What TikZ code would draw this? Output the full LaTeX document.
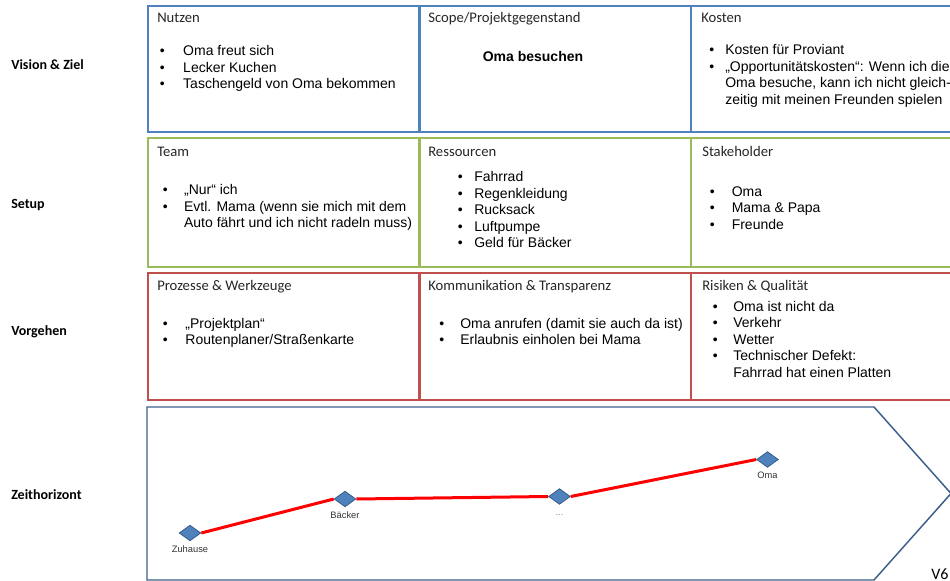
\documentclass[tikz,border=0pt]{standalone}
\usepackage{fontspec}
\setmainfont{Liberation Sans}
\newfontfamily\calibri{Carlito}
\usetikzlibrary{positioning, shapes.geometric}

\definecolor{boxblue}{HTML}{4F81BD}
\definecolor{boxgreen}{HTML}{9BBB59}
\definecolor{boxred}{HTML}{C0504D}
\definecolor{chevblue}{HTML}{3A5F8B}
\definecolor{milefill}{HTML}{4F81BD}
\definecolor{miledraw}{HTML}{385D8A}

\newcommand{\blist}[2]{{\fontsize{10.5}{12.3}\selectfont\begin{tabular}[t]{@{}p{#1}@{}l@{}}#2\end{tabular}}}
\newcommand{\bul}{\textbullet &}

\begin{document}
\begin{tikzpicture}[x=0.75pt, y=-0.75pt,
    cell/.style={draw=#1, line width=1.5pt, minimum width=203.25pt, anchor=north west, inner sep=0},
    head/.style={anchor=base west, inner sep=0, text=black!85, font=\calibri\fontsize{11}{13}\selectfont},
    items/.style={anchor=base west, inner sep=0},
    rowlabel/.style={anchor=base west, inner sep=0, font=\calibri\bfseries\fontsize{10.5}{12}\selectfont},
    milestone/.style={diamond, draw=miledraw, fill=milefill, line width=0.6pt, minimum width=16.3pt, minimum height=11.8pt, inner sep=0},
    tlabel/.style={inner sep=1pt, text height=5pt, text depth=1.5pt, text=black!80, font=\fontsize{7}{8}\selectfont},
    route/.style={draw=red, line width=2.25pt},
    chevron/.style={draw=chevblue, line width=1.1pt}]

  \useasboundingbox (0,0) rectangle (950,581);

  % row labels
  \node[rowlabel] (vision) at (11,69.5) {Vision \& Ziel};
  \node[rowlabel] (setup) at (11,208.5) {Setup};
  \node[rowlabel] (vorgehen) at (11,335.5) {Vorgehen};
  \node[rowlabel] (zeit) at (11,499.5) {Zeithorizont};

  % boxes
  \node[cell=boxblue, minimum height=94.5pt] (nutzen) at (147,5) {};
  \node[cell=boxblue, minimum height=94.5pt] (scope) at (418.5,5) {};
  \node[cell=boxblue, minimum height=94.5pt] (kosten) at (690,5) {};
  \node[cell=boxgreen, minimum height=96.75pt] (team) at (147,137) {};
  \node[cell=boxgreen, minimum height=96.75pt] (ressourcen) at (418.5,137) {};
  \node[cell=boxgreen, minimum height=96.75pt] (stakeholder) at (690,137) {};
  \node[cell=boxred, minimum height=95.25pt] (prozesse) at (147,272) {};
  \node[cell=boxred, minimum height=95.25pt] (kommunikation) at (418.5,272) {};
  \node[cell=boxred, minimum height=95.25pt] (risiken) at (690,272) {};

  % headers
  \node[head] (nutzenhead) at (157,23) {Nutzen};
  \node[head] (scopehead) at (428,23) {Scope/Projektgegenstand};
  \node[head] (kostenhead) at (701,23) {Kosten};
  \node[head] (teamhead) at (157,157) {Team};
  \node[head] (ressourcenhead) at (428,157) {Ressourcen};
  \node[head] (stakeholderhead) at (702,157) {Stakeholder};
  \node[head] (prozessehead) at (157,291) {Prozesse \& Werkzeuge};
  \node[head] (kommunikationhead) at (428,291) {Kommunikation \& Transparenz};
  \node[head] (risikenhead) at (702,291) {Risiken \& Qualität};

  % contents
  \node[items] (nutzenlist) at (159.5,56) {\blist{17.6pt}{%
    \bul Oma freut sich\\
    \bul Lecker Kuchen\\
    \bul Taschengeld von Oma bekommen}};
  \node[inner sep=0, font=\bfseries\fontsize{10.5}{12}\selectfont] (oma) at (533,56) {Oma besuchen};
  \node[items] (kostenlist) at (709,55) {\blist{12pt}{%
    \bul Kosten für Proviant\\
    \bul „Opportunitätskosten“: Wenn ich die\\
    & Oma besuche, kann ich nicht gleich-\\
    & zeitig mit meinen Freunden spielen}};
  \node[items] (teamlist) at (162.5,195) {\blist{16pt}{%
    \bul „Nur“ ich\\
    \bul Evtl. Mama (wenn sie mich mit dem\\
    & Auto fährt und ich nicht radeln muss)}};
  \node[items] (ressourcenlist) at (457.5,182) {\blist{12.4pt}{%
    \bul Fahrrad\\
    \bul Regenkleidung\\
    \bul Rucksack\\
    \bul Luftpumpe\\
    \bul Geld für Bäcker}};
  \node[items] (stakeholderlist) at (709.5,196.5) {\blist{16.5pt}{%
    \bul Oma\\
    \bul Mama \& Papa\\
    \bul Freunde}};
  \node[items] (prozesselist) at (162.5,328) {\blist{17pt}{%
    \bul „Projektplan“\\
    \bul Routenplaner/Straßenkarte}};
  \node[items] (kommunikationlist) at (439,328) {\blist{15.75pt}{%
    \bul Oma anrufen (damit sie auch da ist)\\
    \bul Erlaubnis einholen bei Mama}};
  \node[items] (risikenlist) at (712.5,311.5) {\blist{15.4pt}{%
    \bul Oma ist nicht da\\
    \bul Verkehr\\
    \bul Wetter\\
    \bul Technischer Defekt:\\
    & Fahrrad hat einen Platten}};

  % time line
  \draw[chevron] (147,407) -- (874,407) -- (951,493.5) -- (874,580) -- (147,580) -- cycle;

  \node[milestone] (zuhause) at (190,533) {};
  \node[milestone] (baecker) at (345,499) {};
  \node[milestone] (weiter) at (559.5,496.5) {};
  \node[milestone] (omastop) at (767.5,459.5) {};

  \draw[route] (zuhause.east) -- (baecker.west);
  \draw[route] (baecker.east) -- (weiter.west);
  \draw[route] (weiter.east) -- (omastop.west);

  \node[tlabel, below=2pt of zuhause] (zuhauselabel) {Zuhause};
  \node[tlabel, below=2pt of baecker] (baeckerlabel) {Bäcker};
  \node[tlabel, below=2pt of weiter, text=black!45] (weiterlabel) {...};
  \node[tlabel, below=2pt of omastop] (omalabel) {Oma};

  \node[anchor=base west, inner sep=0, font=\calibri\fontsize{12}{14}\selectfont] (version) at (931,579) {V6};

\end{tikzpicture}
\end{document}
